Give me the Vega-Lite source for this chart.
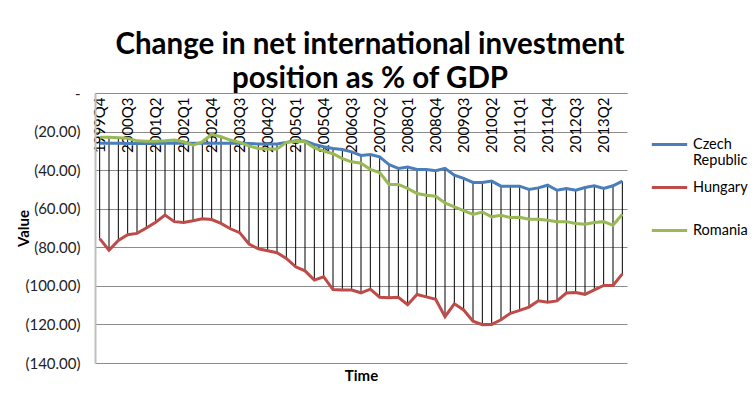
{
  "$schema": "https://vega.github.io/schema/vega-lite/v6.json",
  "width": 532,
  "height": 270,
  "autosize": {"type": "none"},
  "padding": {"left": 95, "top": 93, "right": 128, "bottom": 43},
  "background": "white",
  "config": {"view": {"stroke": null}, "font": "Lato"},
  "title": {
    "text": ["Change in net international investment", "position as % of GDP"],
    "fontSize": 29.5, "font": "Lato", "fontWeight": "bold", "color": "black",
    "anchor": "middle", "frame": "group", "offset": -8, "lineHeight": 34, "dx": 9
  },
  "data": {"values": [
    {"t": "1999Q4", "Czech Republic": -26.0, "Hungary": -75.5, "Romania": -23.0},
    {"t": "2000Q1", "Czech Republic": -26.0, "Hungary": -81.5, "Romania": -23.0},
    {"t": "2000Q2", "Czech Republic": -26.0, "Hungary": -76.5, "Romania": -23.2},
    {"t": "2000Q3", "Czech Republic": -26.2, "Hungary": -73.5, "Romania": -23.5},
    {"t": "2000Q4", "Czech Republic": -26.2, "Hungary": -72.8, "Romania": -24.8},
    {"t": "2001Q1", "Czech Republic": -26.2, "Hungary": -70.0, "Romania": -25.0},
    {"t": "2001Q2", "Czech Republic": -26.2, "Hungary": -67.0, "Romania": -25.0},
    {"t": "2001Q3", "Czech Republic": -26.0, "Hungary": -63.3, "Romania": -24.8},
    {"t": "2001Q4", "Czech Republic": -26.0, "Hungary": -66.7, "Romania": -24.4},
    {"t": "2002Q1", "Czech Republic": -26.0, "Hungary": -67.1, "Romania": -25.3},
    {"t": "2002Q2", "Czech Republic": -26.0, "Hungary": -66.2, "Romania": -27.0},
    {"t": "2002Q3", "Czech Republic": -26.0, "Hungary": -65.2, "Romania": -25.3},
    {"t": "2002Q4", "Czech Republic": -26.0, "Hungary": -65.6, "Romania": -21.5},
    {"t": "2003Q1", "Czech Republic": -26.0, "Hungary": -67.6, "Romania": -22.7},
    {"t": "2003Q2", "Czech Republic": -26.0, "Hungary": -70.4, "Romania": -24.4},
    {"t": "2003Q3", "Czech Republic": -26.0, "Hungary": -72.4, "Romania": -25.6},
    {"t": "2003Q4", "Czech Republic": -26.2, "Hungary": -78.3, "Romania": -27.4},
    {"t": "2004Q1", "Czech Republic": -26.4, "Hungary": -80.8, "Romania": -28.8},
    {"t": "2004Q2", "Czech Republic": -26.4, "Hungary": -81.8, "Romania": -29.1},
    {"t": "2004Q3", "Czech Republic": -26.4, "Hungary": -82.8, "Romania": -29.1},
    {"t": "2004Q4", "Czech Republic": -25.6, "Hungary": -85.8, "Romania": -25.6},
    {"t": "2005Q1", "Czech Republic": -24.8, "Hungary": -90.1, "Romania": -25.0},
    {"t": "2005Q2", "Czech Republic": -24.9, "Hungary": -92.2, "Romania": -25.3},
    {"t": "2005Q3", "Czech Republic": -26.7, "Hungary": -97.0, "Romania": -28.4},
    {"t": "2005Q4", "Czech Republic": -27.9, "Hungary": -95.3, "Romania": -30.1},
    {"t": "2006Q1", "Czech Republic": -28.8, "Hungary": -101.9, "Romania": -31.5},
    {"t": "2006Q2", "Czech Republic": -29.3, "Hungary": -102.2, "Romania": -34.0},
    {"t": "2006Q3", "Czech Republic": -30.5, "Hungary": -102.2, "Romania": -35.7},
    {"t": "2006Q4", "Czech Republic": -32.4, "Hungary": -103.6, "Romania": -36.4},
    {"t": "2007Q1", "Czech Republic": -31.9, "Hungary": -101.7, "Romania": -39.6},
    {"t": "2007Q2", "Czech Republic": -33.1, "Hungary": -105.9, "Romania": -41.2},
    {"t": "2007Q3", "Czech Republic": -37.1, "Hungary": -106.2, "Romania": -47.4},
    {"t": "2007Q4", "Czech Republic": -39.1, "Hungary": -105.9, "Romania": -47.4},
    {"t": "2008Q1", "Czech Republic": -38.4, "Hungary": -109.8, "Romania": -49.5},
    {"t": "2008Q2", "Czech Republic": -39.7, "Hungary": -104.5, "Romania": -52.1},
    {"t": "2008Q3", "Czech Republic": -39.7, "Hungary": -105.7, "Romania": -53.0},
    {"t": "2008Q4", "Czech Republic": -40.3, "Hungary": -107.0, "Romania": -53.5},
    {"t": "2009Q1", "Czech Republic": -39.1, "Hungary": -116.0, "Romania": -57.0},
    {"t": "2009Q2", "Czech Republic": -42.6, "Hungary": -109.3, "Romania": -59.0},
    {"t": "2009Q3", "Czech Republic": -44.3, "Hungary": -112.5, "Romania": -61.0},
    {"t": "2009Q4", "Czech Republic": -46.4, "Hungary": -118.3, "Romania": -63.0},
    {"t": "2010Q1", "Czech Republic": -46.4, "Hungary": -120.1, "Romania": -61.7},
    {"t": "2010Q2", "Czech Republic": -45.7, "Hungary": -120.0, "Romania": -64.2},
    {"t": "2010Q3", "Czech Republic": -48.3, "Hungary": -117.6, "Romania": -63.4},
    {"t": "2010Q4", "Czech Republic": -48.3, "Hungary": -114.2, "Romania": -64.6},
    {"t": "2011Q1", "Czech Republic": -48.3, "Hungary": -112.7, "Romania": -64.4},
    {"t": "2011Q2", "Czech Republic": -50.0, "Hungary": -111.0, "Romania": -65.5},
    {"t": "2011Q3", "Czech Republic": -49.2, "Hungary": -107.7, "Romania": -65.5},
    {"t": "2011Q4", "Czech Republic": -47.8, "Hungary": -108.5, "Romania": -66.0},
    {"t": "2012Q1", "Czech Republic": -50.4, "Hungary": -107.8, "Romania": -66.7},
    {"t": "2012Q2", "Czech Republic": -49.5, "Hungary": -103.7, "Romania": -66.7},
    {"t": "2012Q3", "Czech Republic": -50.4, "Hungary": -103.4, "Romania": -67.7},
    {"t": "2012Q4", "Czech Republic": -49.0, "Hungary": -104.4, "Romania": -68.1},
    {"t": "2013Q1", "Czech Republic": -48.1, "Hungary": -102.1, "Romania": -67.2},
    {"t": "2013Q2", "Czech Republic": -49.5, "Hungary": -99.8, "Romania": -66.7},
    {"t": "2013Q3", "Czech Republic": -48.1, "Hungary": -99.8, "Romania": -68.6},
    {"t": "2013Q4", "Czech Republic": -45.7, "Hungary": -93.8, "Romania": -62.9}
  ]},
  "transform": [
    {"fold": ["Czech Republic", "Hungary", "Romania"], "as": ["country", "value"]}
  ],
  "resolve": {"axis": {"x": "independent"}},
  "layer": [
    {
      "mark": {"type": "rule", "color": "black", "strokeWidth": 1},
      "encoding": {
        "x": {
          "field": "t", "type": "ordinal", "sort": null,
          "scale": {"type": "point", "padding": 0.5},
          "axis": {
            "orient": "bottom", "offset": -270, "title": null,
            "values": ["1999Q4","2000Q3","2001Q2","2002Q1","2002Q4","2003Q3","2004Q2","2005Q1","2005Q4","2006Q3","2007Q2","2008Q1","2008Q4","2009Q3","2010Q2","2011Q1","2011Q4","2012Q3","2013Q2"],
            "labelAngle": -90, "labelFontSize": 15, "labelColor": "black", "labelFont": "Lato",
            "labelOverlap": false, "labelBound": false, "labelFlush": false,
            "ticks": false, "labelPadding": 4, "domain": true, "domainColor": "#8c8c8c", "domainWidth": 1, "grid": false
          }
        },
        "y": {
          "aggregate": "min", "field": "value", "type": "quantitative",
          "scale": {"domain": [-140, 0], "nice": false, "zero": false},
          "axis": {
            "title": "Value",
            "values": [0, -20, -40, -60, -80, -100, -120, -140],
            "tickCount": 20,
            "labelExpr": "datum.value == 0 ? '-\u00a0\u00a0\u00a0\u00a0\u00a0\u00a0\u00a0' : '(' + format(-datum.value, '.2f') + ')'",
            "labelOverlap": false, "labelFlush": false, "labelBound": false,
            "labelFontSize": 15, "labelColor": "#222222", "labelFont": "Lato",
            "ticks": false, "labelPadding": 15,
            "grid": true, "gridColor": "#8c8c8c", "gridWidth": 1,
            "domain": true, "domainColor": "#bfbfbf", "domainWidth": 2,
            "titleX": -64, "titleY": 135, "titleAngle": 270, "titleAlign": "center",
            "titleFontSize": 15, "titleFontWeight": "bold", "titleColor": "black", "titleFont": "Lato"
          }
        },
        "y2": {"aggregate": "max", "field": "value"}
      }
    },
    {
      "mark": {"type": "line", "strokeWidth": 3},
      "encoding": {
        "x": {
          "field": "t", "type": "ordinal", "sort": null,
          "scale": {"type": "point", "padding": 0.5},
          "axis": {
            "orient": "bottom", "title": "Time", "labels": false, "ticks": false,
            "domain": false, "grid": false,
            "titleFontWeight": "bold", "titleFontSize": 15, "titleColor": "black", "titleFont": "Lato", "titlePadding": 5
          }
        },
        "y": {"field": "value", "type": "quantitative"},
        "color": {
          "field": "country", "type": "nominal",
          "scale": {"domain": ["Czech Republic", "Hungary", "Romania"], "range": ["#4A7EBB", "#BE4B48", "#98B954"]},
          "legend": {
            "orient": "none", "legendX": 555, "legendY": 32, "title": null,
            "symbolType": "stroke", "symbolStrokeWidth": 3, "symbolSize": 1250,
            "labelFontSize": 14.5, "labelFont": "Lato", "labelColor": "black",
            "labelLineHeight": 19,
            "labelExpr": "datum.label == 'Czech Republic' ? ['Czech', 'Republic'] : [datum.label, '']",
            "rowPadding": 0, "labelOffset": 4
          }
        }
      }
    }
  ]
}
